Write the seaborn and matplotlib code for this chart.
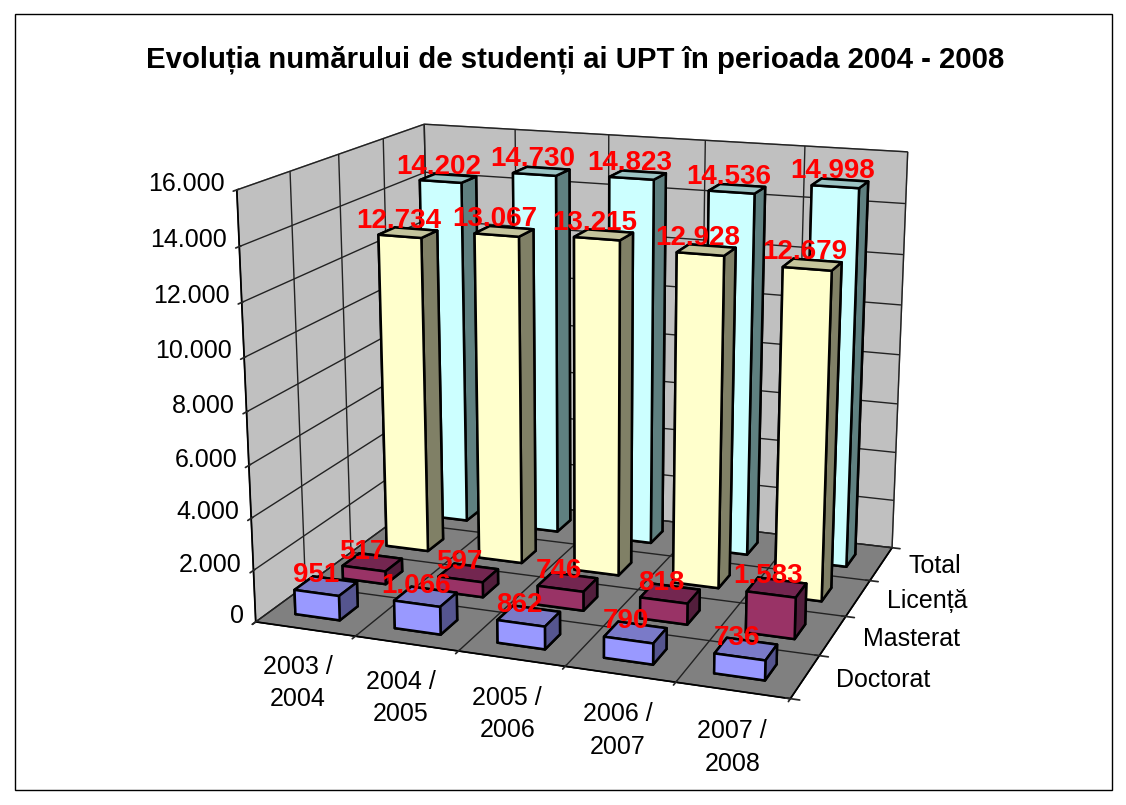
import matplotlib
matplotlib.use('Agg')
import matplotlib.pyplot as plt
import seaborn as sns
import numpy as np
from matplotlib.patches import Rectangle

years = ['2003 /\n2004', '2004 /\n2005', '2005 /\n2006', '2006 /\n2007', '2007 /\n2008']
series = ['Doctorat', 'Masterat', 'Licență', 'Total']
doctorat = [951, 1066, 862, 790, 736]
masterat = [517, 597, 746, 818, 1583]
licenta = [12734, 13067, 13215, 12928, 12679]
total = [14202, 14730, 14823, 14536, 14998]
z_ticks = [0, 2000, 4000, 6000, 8000, 10000, 12000, 14000, 16000]

sns.set_theme(style='white')
plt.rcParams['font.family'] = ['Liberation Sans', 'DejaVu Sans']

# front, top, side colour of each series
front = sns.color_palette(['#9999FF', '#993366', '#FFFFCC', '#CCFFFF'])
top = sns.color_palette(['#7A7AC8', '#732650', '#C4C49C', '#9CC4C4'])
side = sns.color_palette(['#55558F', '#521E3C', '#808066', '#5F8080'])

fig = plt.figure(figsize=(11.26, 8.05), dpi=100, facecolor='white')
fig.add_artist(Rectangle((15 / 1126, 1 - 790 / 805), 1097 / 1126, 776 / 805, fill=False, ec='black', lw=1,
                         transform=fig.transFigure))
ax = fig.add_axes([0.053, 0.012, 0.92, 1.0], projection='3d', computed_zorder=False)
ax.patch.set_alpha(0)
ax.set_proj_type('persp', focal_length=0.5)
ax.view_init(elev=15.5, azim=-70)
ax.set_box_aspect((1.02, 0.8, 0.81), zoom=0.975)

ax.set_xlim(0, 5)
ax.set_ylim(0, 4)
ax.set_zlim(0, 16000)
ax.set_xticks(range(6))
ax.set_yticks(range(5))
ax.set_zticks(z_ticks)
ax.set_xticklabels([])
ax.set_yticklabels([])
ax.set_zticklabels([f'{v:,}'.replace(',', '.') for v in z_ticks], fontsize=18, color='black', ha='right',
                   va='baseline')
ax.tick_params(axis='z', pad=-3)
ax.zaxis.set_ticks_position('lower')

ax.zaxis.set_pane_color('#808080')
ax.xaxis.set_pane_color('#C0C0C0')
ax.yaxis.set_pane_color('#C0C0C0')
for a in [ax.xaxis, ax.yaxis, ax.zaxis]:
    a._axinfo['grid'].update(color='#222222', linewidth=1)
    a.line.set_color('black')
    a.pane.set_edgecolor('#808080')

data = [doctorat, masterat, licenta, total]
for i in [3, 2, 1, 0]:
    xs = np.arange(5) + 0.25
    ys = np.full(5, i + 0.3)
    cols = []
    for k in range(5):
        cols += [top[i], top[i], front[i], side[i], side[i], side[i]]
    ax.bar3d(xs, ys, np.zeros(5), 0.45, 0.38, data[i], color=cols, edgecolor='black', linewidth=1.8,
             shade=False, zorder=10 - i)

for i in [3, 2, 1, 0]:
    for k in range(5):
        label = f'{data[i][k]:,}'.replace(',', '.')
        ax.text(k + 0.42, i + 0.4, data[i][k] + 520, label, color='red', fontsize=20, fontweight='bold',
                ha='center', va='center', zorder=30)

for k, lab in enumerate(years):
    ax.text(k + 0.6, -0.35, -400, lab, fontsize=18, ha='center', va='top', color='black', zorder=30,
            linespacing=1.45)
for i, lab in enumerate(series):
    ax.text(5.27, i + 0.5, 30, lab, fontsize=18, ha='left', va='center', color='black', zorder=30)

fig.text(575 / 1126, 1 - 60 / 805, 'Evoluția numărului de studenți ai UPT în perioada 2004 - 2008',
         fontsize=21.2, fontweight='bold', ha='center', va='center', color='black')
plt.savefig('out.png', dpi=100)
